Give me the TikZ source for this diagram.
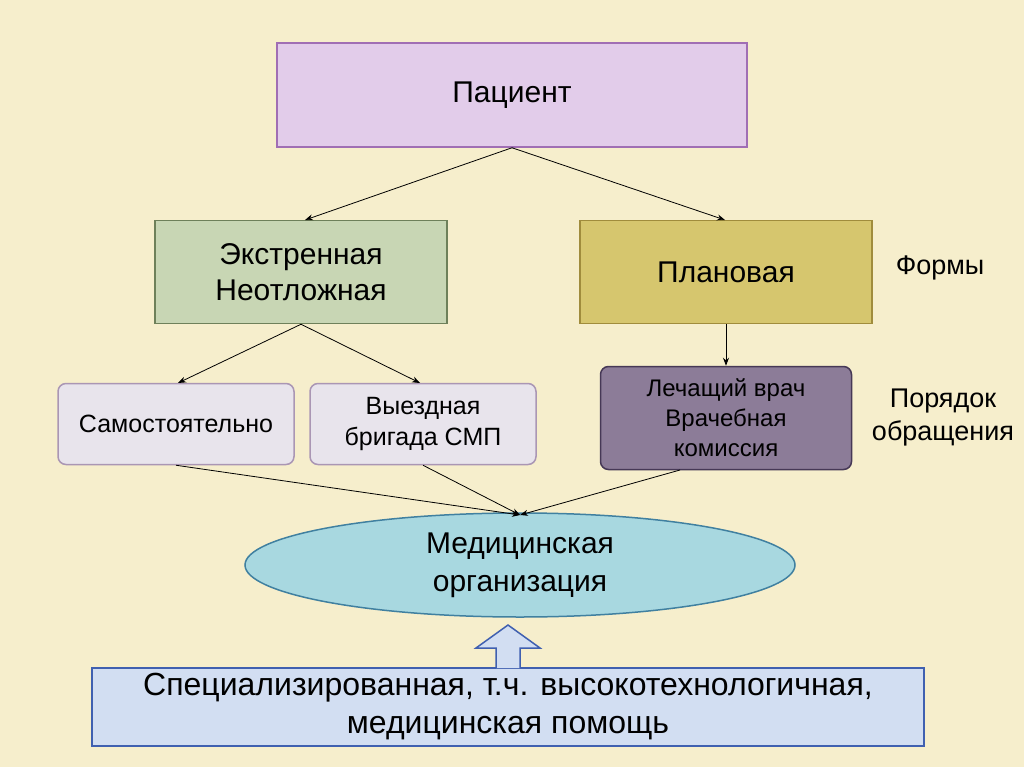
\documentclass[tikz,border=0pt]{standalone}
\usepackage{fontspec}
\setmainfont{Liberation Sans}
\usetikzlibrary{shapes.geometric,arrows.meta}
\begin{document}
\begin{tikzpicture}[x=1pt,y=-1pt,
  box/.style={draw,line width=1.5pt,align=center,font=\fontsize{30}{36}\selectfont},
  sbox/.style={box,rounded corners=8pt,font=\fontsize{25}{31}\selectfont},
  lbl/.style={align=center,font=\fontsize{27}{33}\selectfont},
  arr/.style={-{Stealth[length=8pt,width=6pt]},line width=0.8pt}]
\fill[color={rgb,255:red,246;green,238;blue,204}] (0,0) rectangle (1024,767);
\useasboundingbox (0,0) rectangle (1024,767);
\node[box,fill={rgb,255:red,226;green,204;blue,234},draw={rgb,255:red,160;green,110;blue,180},minimum width=470pt,minimum height=104pt] (p) at (512,95) {Пациент};
\node[box,fill={rgb,255:red,200;green,214;blue,180},draw={rgb,255:red,110;green,128;blue,90},minimum width=292pt,minimum height=103pt] (e) at (301,272) {Экстренная\\Неотложная};
\node[box,fill={rgb,255:red,214;green,198;blue,110},draw={rgb,255:red,160;green,140;blue,60},minimum width=292pt,minimum height=103pt] (pl) at (726,272) {Плановая};
\node[lbl] (f) at (940,268) {Формы};
\node[sbox,fill={rgb,255:red,232;green,228;blue,236},draw={rgb,255:red,170;green,150;blue,180},minimum width=236pt,minimum height=81pt] (s) at (176,424) {Самостоятельно};
\node[sbox,fill={rgb,255:red,232;green,228;blue,236},draw={rgb,255:red,170;green,150;blue,180},minimum width=226pt,minimum height=81pt] (v) at (423,424) {Выездная\\бригада СМП};
\node[sbox,fill={rgb,255:red,140;green,124;blue,152},draw={rgb,255:red,70;green,56;blue,86},minimum width=251pt,minimum height=103pt,font=\fontsize{24}{30}\selectfont,inner sep=0pt] (l) at (726,418) {Лечащий врач\\Врачебная\\комиссия};
\node[lbl] (po) at (943,418) {Порядок\\обращения};
\node[ellipse,draw={rgb,255:red,64;green,128;blue,160},line width=1.5pt,fill={rgb,255:red,168;green,216;blue,224},minimum width=550pt,minimum height=104pt,inner sep=0pt,align=center,font=\fontsize{30}{38}\selectfont] (m) at (520,565) {Медицинская\\организация};
\node[box,fill={rgb,255:red,210;green,222;blue,242},draw={rgb,255:red,64;green,96;blue,176},minimum width=832pt,minimum height=78pt,font=\fontsize{32}{38}\selectfont] (b) at (508,707) {Специализированная, т.ч. высокотехнологичная,\\медицинская помощь};
\coordinate (ta) at (520,515);
\draw[arr] (p.south) -- (305,220);
\draw[arr] (p.south) -- (725,220);
\draw[arr] (e.south) -- (178,383);
\draw[arr] (e.south) -- (420,383);
\draw[arr] (pl.south) -- (l.north);
\draw[arr] (s.south) -- (ta);
\draw[arr] (v.south) -- (ta);
\draw[arr] (680,470) -- (ta);
\draw[line width=1.5pt,draw={rgb,255:red,64;green,96;blue,176},fill={rgb,255:red,210;green,222;blue,242}]
 (496,668) -- (496,648) -- (476,648) -- (508,625) -- (540,648) -- (520,648) -- (520,668);
\end{tikzpicture}
\end{document}
